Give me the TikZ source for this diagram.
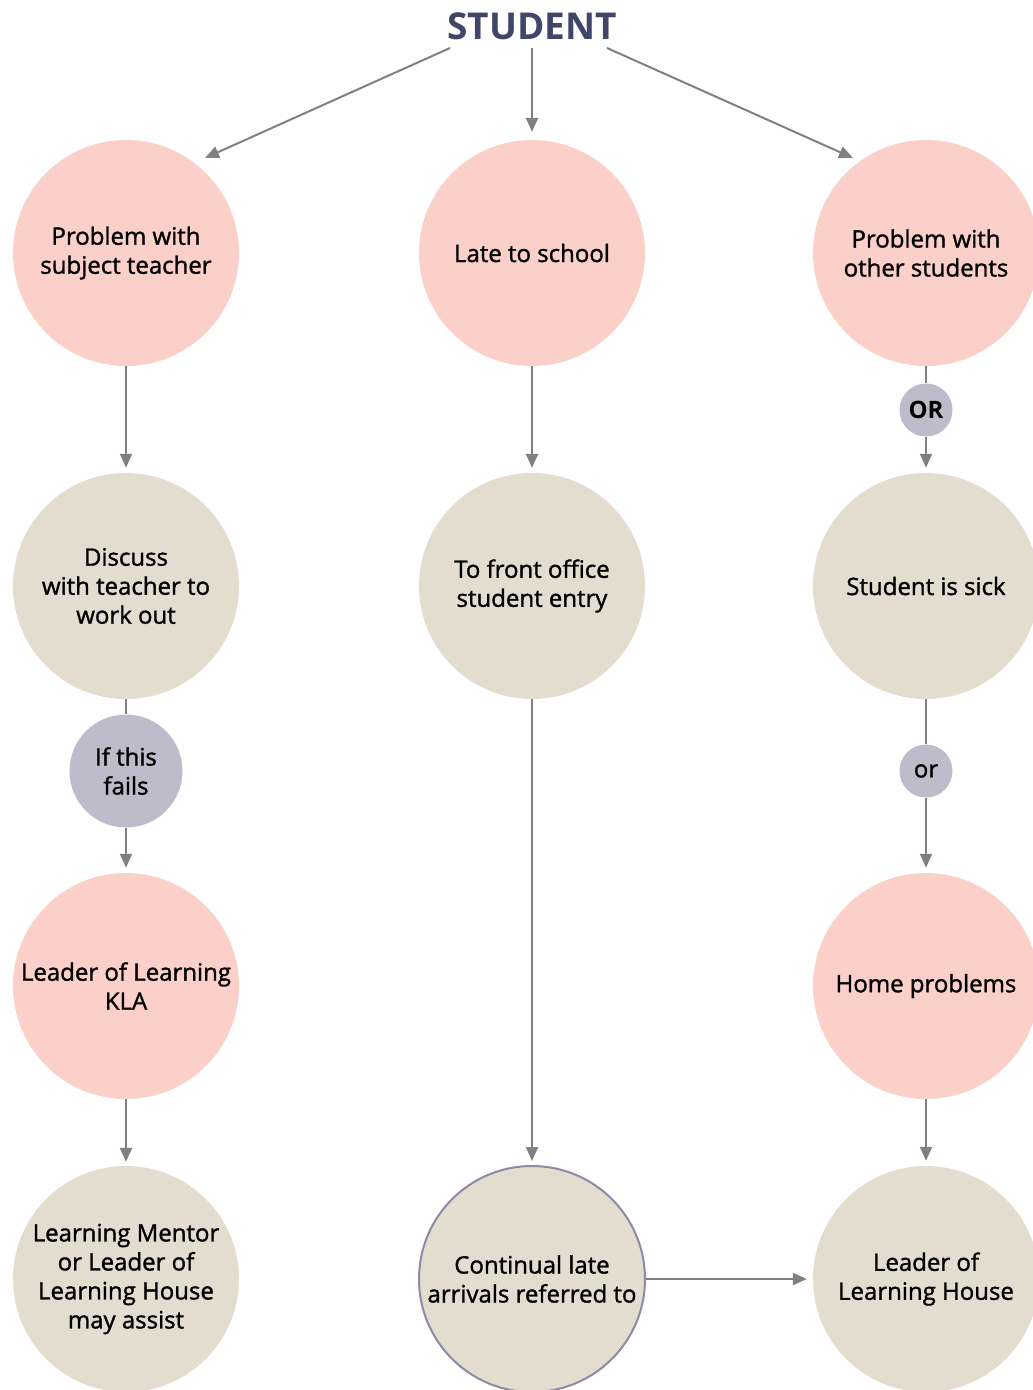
\documentclass[tikz,border=0pt]{standalone}
\usepackage{fontspec}
\setmainfont{Open Sans}
\newfontfamily\semib[FakeBold=1.3]{Open Sans}
\usetikzlibrary{arrows.meta}
\definecolor{pinkc}{HTML}{FBD0C9}
\definecolor{beigec}{HTML}{E5DCD0}
\definecolor{lavc}{HTML}{BEBBCA}
\definecolor{lavborder}{HTML}{8E89A6}
\definecolor{arrc}{HTML}{7F7F84}
\definecolor{titlec}{HTML}{3F4668}
\begin{document}
\begin{tikzpicture}[x=1pt,y=-1pt,
  bigc/.style={circle,minimum size=226pt,inner sep=0pt,align=center,font=\semib\fontsize{24}{29}\selectfont},
  pinkn/.style={bigc,fill=pinkc},
  beigen/.style={bigc,fill=beigec},
  smallc/.style={circle,fill=lavc,inner sep=0pt,align=center,font=\semib\fontsize{24}{29}\selectfont},
  arr/.style={draw=arrc,line width=2pt,-{Triangle[length=14pt,width=12pt]}},
  ln/.style={draw=arrc,line width=2pt}]
\useasboundingbox (0,0) rectangle (1033,1390);
\node[font=\fontsize{37}{42}\selectfont\bfseries,text=titlec,inner sep=0pt] (student) at (532,26) {STUDENT};
% left column
\node[pinkn] (l1) at (126,253) {Problem with\\subject teacher};
\node[beigen] (l2) at (126,586) {Discuss\\with teacher to\\work out};
\node[smallc,minimum size=113pt] (lf) at (126,771) {If this\\fails};
\node[pinkn] (l3) at (126,986) {Leader of Learning\\KLA};
\node[beigen] (l4) at (126,1279) {Learning Mentor\\or Leader of\\Learning House\\may assist};
% middle column
\node[pinkn] (m1) at (532,253) {Late to school};
\node[beigen] (m2) at (532,586) {To front office\\student entry};
\node[beigen,draw=lavborder,line width=2pt] (m3) at (532,1279) {Continual late\\arrivals referred to};
% right column
\node[pinkn] (r1) at (926,253) {Problem with\\other students};
\node[smallc,minimum size=53pt,font=\fontsize{24}{29}\selectfont\bfseries] (ror) at (926,410) {OR};
\node[beigen] (r2) at (926,586) {Student is sick};
\node[smallc,minimum size=53pt] (ror2) at (926,771) {or};
\node[pinkn] (r3) at (926,986) {Home problems};
\node[beigen] (r4) at (926,1279) {Leader of\\Learning House};
% top arrows
\coordinate (tl) at (205,158);
\coordinate (tr) at (853,158);
\draw[arr] ([xshift=-82pt,yshift=-22pt]student.center) -- (tl);
\draw[arr] ([yshift=-22pt]student.center) -- ([yshift=8pt]m1.north);
\draw[arr] ([xshift=75pt,yshift=-22pt]student.center) -- (tr);
% left
\draw[arr,shorten >=5pt] (l1) -- (l2);
\draw[ln] (l2) -- (lf);
\draw[arr,shorten >=5pt] (lf) -- (l3);
\draw[arr,shorten >=4pt] (l3) -- (l4);
% middle
\draw[arr,shorten >=5pt] (m1) -- (m2);
\draw[arr,shorten >=4pt] (m2) -- (m3);
\draw[arr,shorten >=6pt] (m3) -- (r4);
% right
\draw[ln] (r1) -- (ror);
\draw[arr,shorten >=5pt] (ror) -- (r2);
\draw[ln] (r2) -- (ror2);
\draw[arr,shorten >=5pt] (ror2) -- (r3);
\draw[arr,shorten >=5pt] (r3) -- (r4);
\end{tikzpicture}
\end{document}
